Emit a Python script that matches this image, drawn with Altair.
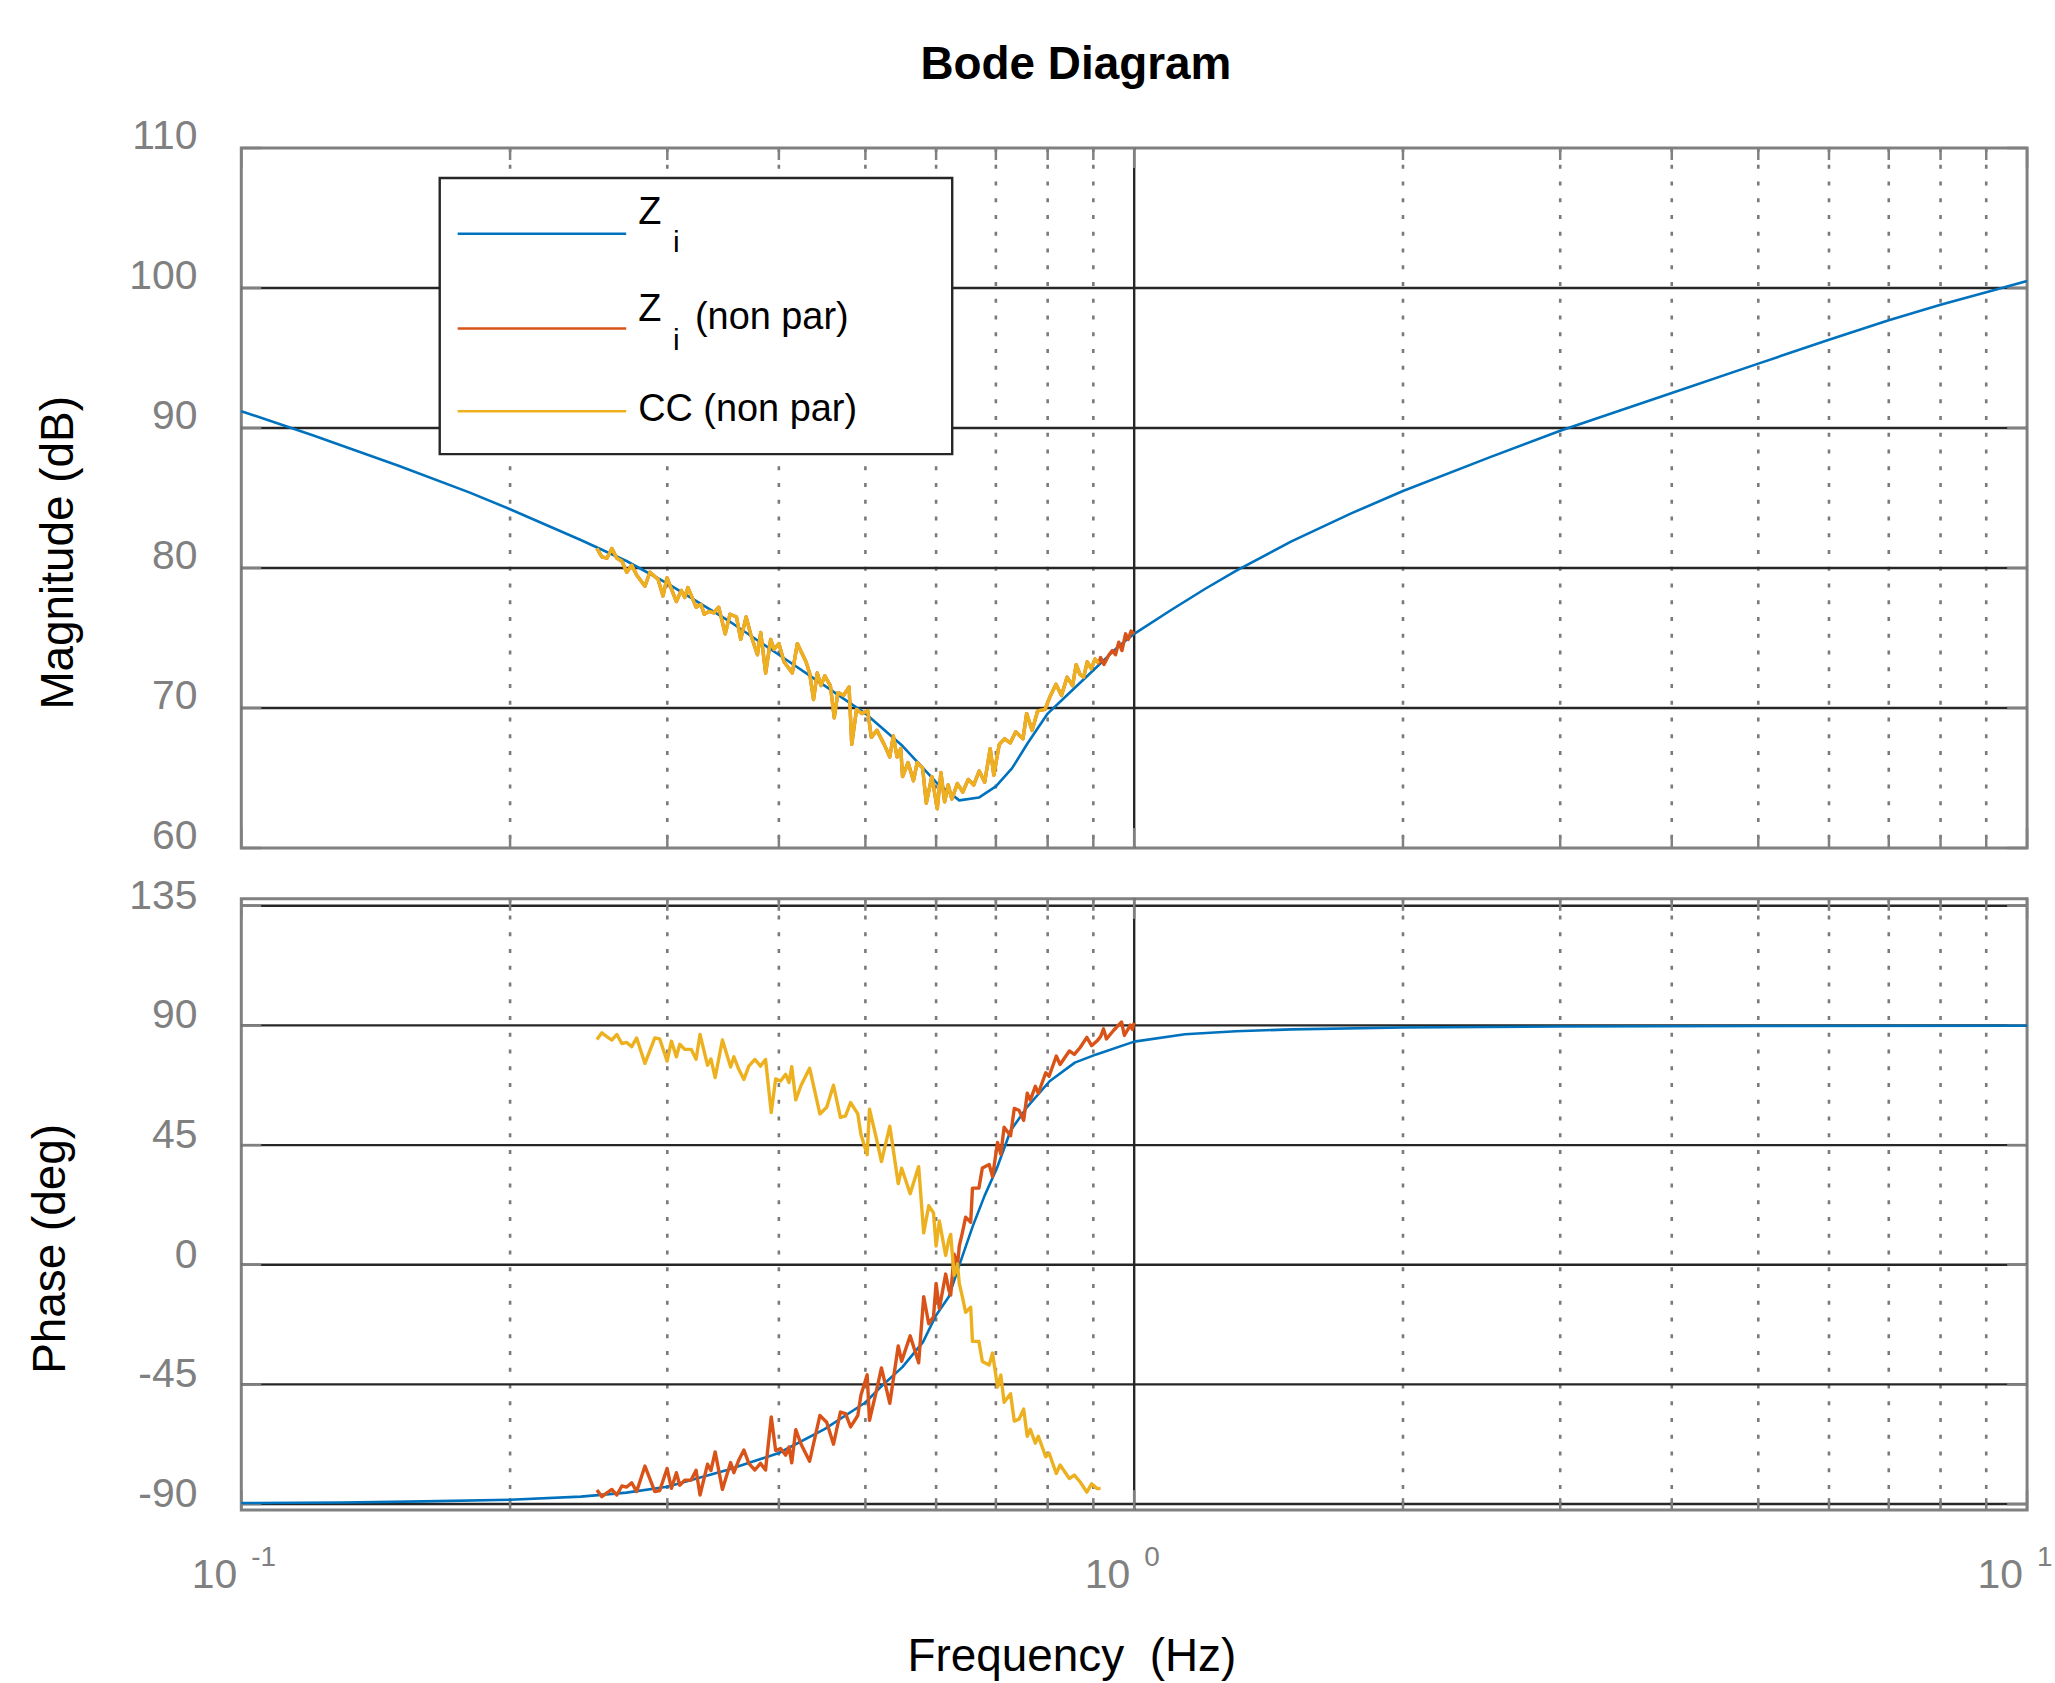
import altair as alt
import pandas as pd

FONT = "Liberation Sans"
GRAY = "#808080"
DARK = "#262626"
BLUE = "#0072BD"
ORANGE = "#D95319"
YELLOW = "#EDB120"

W, H1, H2 = 1791, 702, 613

# ---------------- data ----------------
ZI_MAG_F = [0.1, 0.12, 0.15, 0.18, 0.2, 0.24, 0.27, 0.3, 0.35, 0.4, 0.45, 0.5, 0.55, 0.6, 0.637,
            0.67, 0.7, 0.73, 0.76, 0.8, 0.85, 0.9, 0.96, 1.0, 1.1, 1.2, 1.3, 1.5, 1.75, 2.0, 2.5,
            3.0, 4.0, 5.0, 6.0, 7.0, 8.0, 9.0, 10.0]
ZI_MAG = [91.2, 89.5, 87.3, 85.4, 84.2, 82.0, 80.5, 78.9, 76.3, 73.8, 71.6, 69.6, 67.3, 64.7, 63.4,
          63.6, 64.4, 65.7, 67.5, 69.6, 71.2, 72.7, 74.4, 75.3, 77.0, 78.5, 79.8, 81.9, 83.9, 85.5,
          87.9, 89.8, 92.5, 94.6, 96.3, 97.7, 98.8, 99.7, 100.5]

ZI_PH_F = [0.1, 0.13, 0.16, 0.2, 0.24, 0.27, 0.3, 0.35, 0.4, 0.45, 0.5, 0.52, 0.55, 0.58, 0.6,
           0.62, 0.638, 0.66, 0.68, 0.702, 0.727, 0.759, 0.804, 0.858, 0.907, 1.0, 1.14, 1.3,
           1.5, 2.0, 3.0, 5.0, 10.0]
ZI_PH = [-89.6, -89.4, -89.0, -88.4, -87.2, -85.7, -83.5, -77.2, -70.8, -61.8, -51.8, -46.0,
         -38.5, -29.1, -19.0, -12.0, 0.5, 14.8, 26.0, 36.4, 50.4, 59.4, 69.0, 76.0, 79.1, 83.9,
         86.7, 87.8, 88.5, 89.2, 89.6, 89.8, 89.9]

NP_MAG_F = [0.2502, 0.2534, 0.2567, 0.2600, 0.2634, 0.2668, 0.2702, 0.2737, 0.2772, 0.2832,
            0.2868, 0.2929, 0.2967, 0.2998, 0.3071, 0.3110, 0.3138, 0.3164, 0.3231, 0.3272,
            0.3300, 0.3341, 0.3383, 0.3425, 0.3483, 0.3527, 0.3586, 0.3625, 0.3676, 0.3722,
            0.3785, 0.3817, 0.3866, 0.3916, 0.3950, 0.4001, 0.4053, 0.4141, 0.4195, 0.4290,
            0.4330, 0.4374, 0.4416, 0.4459, 0.4503, 0.4568, 0.4614, 0.4658, 0.4726, 0.4794,
            0.4827, 0.4887, 0.4958, 0.5030, 0.5077, 0.5151, 0.5248, 0.5324, 0.5374, 0.5425,
            0.5477, 0.5503, 0.5581, 0.5660, 0.5714, 0.5795, 0.5850, 0.5934, 0.6018, 0.6075,
            0.6133, 0.6190, 0.6249, 0.6338, 0.6427, 0.6519, 0.6612, 0.6706, 0.6801, 0.6898,
            0.6963, 0.7061, 0.7162, 0.7264, 0.7367, 0.7507, 0.7578, 0.7686, 0.7797, 0.7945,
            0.8060, 0.8174, 0.8290, 0.8410, 0.8530, 0.8611, 0.8695, 0.8778, 0.8860, 0.8950,
            0.9040, 0.9125, 0.9170, 0.9250, 0.9370, 0.9450, 0.9530, 0.9610, 0.9690, 0.9780,
            0.9850, 0.9920, 1.0000]
NP_MAG = [81.4, 80.8, 80.7, 81.4, 80.7, 80.5, 79.7, 80.2, 79.5, 78.7,
          79.7, 79.2, 78.0, 79.3, 77.6, 78.4, 77.9, 78.6, 77.2, 77.4,
          76.7, 76.9, 76.8, 77.2, 75.3, 76.7, 76.5, 74.9, 76.5, 75.2,
          73.8, 75.4, 72.5, 74.9, 74.2, 74.6, 73.3, 72.5, 74.6, 73.3,
          72.5, 70.6, 72.5, 71.6, 72.3, 71.6, 69.3, 71.1, 70.9, 71.5,
          67.4, 69.9, 69.6, 69.8, 67.9, 68.4, 67.4, 66.5, 68.0, 66.5,
          67.1, 65.1, 66.1, 64.8, 66.1, 65.7, 63.2, 65.1, 62.8, 65.4,
          63.3, 64.5, 63.5, 64.6, 64.0, 64.9, 64.5, 65.5, 64.7, 67.1,
          65.2, 67.4, 67.8, 67.5, 68.3, 67.8, 69.6, 68.4, 69.8, 69.9,
          70.9, 71.7, 70.9, 72.2, 71.6, 73.1, 72.4, 72.2, 73.3, 72.8,
          73.5, 73.2, 73.6, 73.1, 73.8, 74.1, 73.8, 74.7, 74.1, 75.3,
          74.9, 75.5, 75.3]
CC_MAG_COUNT = 102  # CC (non par) stops at ~0.91 Hz

NP_PH_F = [0.2502, 0.2534, 0.2567, 0.2600, 0.2634, 0.2668, 0.2702, 0.2737, 0.2772, 0.2832,
           0.2905, 0.2942, 0.2998, 0.3032, 0.3071, 0.3098, 0.3138, 0.3190, 0.3231, 0.3264,
           0.3328, 0.3357, 0.3394, 0.3458, 0.3532, 0.3562, 0.3608, 0.3655, 0.3702, 0.3760,
           0.3815, 0.3865, 0.3922, 0.3967, 0.4018, 0.4071, 0.4106, 0.4135, 0.4178, 0.4236,
           0.4330, 0.4446, 0.4525, 0.4605, 0.4688, 0.4750, 0.4813, 0.4903, 0.4943, 0.5023,
           0.5053, 0.5142, 0.5211, 0.5325, 0.5442, 0.5490, 0.5612, 0.5736, 0.5811, 0.5887,
           0.5960, 0.6000, 0.6050, 0.6150, 0.6200, 0.6230, 0.6285, 0.6340, 0.6370, 0.6420,
           0.6475, 0.6560, 0.6590, 0.6700, 0.6760, 0.6880, 0.6940, 0.7030, 0.7090, 0.7150,
           0.7270, 0.7340, 0.7430, 0.7520, 0.7590, 0.7650, 0.7750, 0.7810, 0.7960, 0.8030,
           0.8180, 0.8260, 0.8460, 0.8570, 0.8700, 0.8850, 0.8960, 0.9090, 0.9170, 0.9240,
           0.9310, 0.9480, 0.9680, 0.9750, 0.9900, 0.9950, 1.0000]
NP_PH = [-84.7, -87.2, -85.8, -84.5, -86.6, -83.2, -83.6, -82.0, -85.3, -75.7,
         -85.3, -84.9, -76.6, -84.1, -78.2, -82.9, -81.0, -81.0, -77.3, -86.6,
         -75.0, -77.4, -70.4, -84.5, -74.4, -78.2, -73.4, -69.7, -74.7, -77.2,
         -74.7, -77.2, -57.2, -69.9, -69.1, -71.6, -68.5, -74.5, -62.0, -67.5,
         -73.9, -56.7, -59.2, -67.5, -55.4, -56.0, -61.0, -56.7, -49.0, -41.4,
         -58.5, -47.7, -38.8, -52.1, -30.5, -36.3, -26.7, -36.9, -12.0, -22.2,
         -19.5, -7.0, -16.5, -3.5, -9.5, -11.4, 4.0, -0.3, 7.1, 12.0,
         17.9, 16.0, 28.8, 28.8, 36.4, 37.7, 33.2, 46.0, 41.5, 51.7,
         48.5, 58.8, 58.1, 54.3, 64.5, 61.9, 67.1, 64.5, 72.2, 70.9,
         78.5, 75.3, 80.4, 79.1, 81.7, 85.5, 82.4, 84.2, 85.8, 88.7,
         84.9, 88.1, 91.3, 86.2, 90.1, 88.5, 91.0]

CC_PH_F = [0.2502, 0.2534, 0.2567, 0.2600, 0.2634, 0.2668, 0.2702, 0.2737, 0.2772, 0.2832,
           0.2905, 0.2942, 0.2998, 0.3032, 0.3071, 0.3098, 0.3138, 0.3190, 0.3231, 0.3264,
           0.3328, 0.3357, 0.3394, 0.3458, 0.3532, 0.3562, 0.3608, 0.3655, 0.3702, 0.3760,
           0.3815, 0.3865, 0.3922, 0.3967, 0.4018, 0.4071, 0.4106, 0.4135, 0.4178, 0.4236,
           0.4330, 0.4446, 0.4525, 0.4605, 0.4688, 0.4750, 0.4813, 0.4903, 0.4943, 0.5023,
           0.5053, 0.5142, 0.5211, 0.5325, 0.5442, 0.5490, 0.5612, 0.5736, 0.5811, 0.5887,
           0.5960, 0.6000, 0.6050, 0.6150, 0.6200, 0.6230, 0.6285, 0.6340, 0.6370, 0.6420,
           0.6475, 0.6560, 0.6590, 0.6700, 0.6760, 0.6880, 0.6940, 0.7030, 0.7090, 0.7150,
           0.7270, 0.7340, 0.7430, 0.7520, 0.7590, 0.7650, 0.7750, 0.7810, 0.7960, 0.8030,
           0.8180, 0.8260, 0.8460, 0.8570, 0.8700, 0.8850, 0.8960, 0.9090, 0.9170]
CC_PH = [84.7, 87.2, 85.8, 84.5, 86.6, 83.2, 83.6, 82.0, 85.3, 75.7,
         85.3, 84.9, 76.6, 84.1, 78.2, 82.9, 81.0, 81.0, 77.3, 86.6,
         75.0, 77.4, 70.4, 84.5, 74.4, 78.2, 73.4, 69.7, 74.7, 77.2,
         74.7, 77.2, 57.2, 69.9, 69.1, 71.6, 68.5, 74.5, 62.0, 67.5,
         73.9, 56.7, 59.2, 67.5, 55.4, 56.0, 61.0, 56.7, 49.0, 41.4,
         58.5, 47.7, 38.8, 52.1, 30.5, 36.3, 26.7, 36.9, 12.0, 22.2,
         19.5, 7.0, 16.5, 3.5, 9.5, 11.4, -4.0, 0.3, -7.1, -12.0,
         -17.9, -16.0, -28.8, -28.8, -36.4, -37.7, -33.2, -46.0, -41.5, -51.7,
         -48.5, -58.8, -58.1, -54.3, -64.5, -61.9, -67.1, -64.5, -72.2, -70.9,
         -78.5, -75.3, -80.4, -79.1, -81.7, -85.5, -82.4, -84.2, -84.1]

MINOR_F = [0.2, 0.3, 0.4, 0.5, 0.6, 0.7, 0.8, 0.9, 2, 3, 4, 5, 6, 7, 8, 9]
MAJOR_F = [1]
DECADES = [0.1, 1, 10]
DECADE_EXP = ["-1", "0", "1"]
MAG_TICKS = [60, 70, 80, 90, 100, 110]
MAG_LABELS = ["60", "70", "80", "90", "100", "110"]
MAG_GRID = [70, 80, 90, 100]
PH_TICKS = [-90, -45, 0, 45, 90, 135]
PH_LABELS = ["-90", "-45", "0", "45", "90", "135"]

LEGEND_NAMES = ["Z", "Z", "CC (non par)"]

# ---------------- scales ----------------
XS = alt.Scale(type="log", domain=[0.1, 10], nice=False)
YM = alt.Scale(domain=[60, 110], nice=False, zero=False)
YP = alt.Scale(domain=[-92.25, 137.6], nice=False, zero=False)

ONE = pd.DataFrame({"k": [0]})


def xenc():
    return alt.X("f:Q", scale=XS, axis=None)


def vgrid(vals, H, color, width, dash=None):
    kw = dict(color=color, strokeWidth=width)
    if dash:
        kw["strokeDash"] = dash
    return alt.Chart(pd.DataFrame({"f": vals})).mark_rule(**kw).encode(
        x=xenc(), y=alt.value(0), y2=alt.value(H))


def hgrid(vals, ys):
    return alt.Chart(pd.DataFrame({"v": vals})).mark_rule(color=DARK, strokeWidth=2.4).encode(
        y=alt.Y("v:Q", scale=ys, axis=None), x=alt.value(0), x2=alt.value(W))


def yticks(vals, ys):
    d = pd.DataFrame({"v": vals})
    left = alt.Chart(d).mark_rule(color=GRAY, strokeWidth=2.5).encode(
        y=alt.Y("v:Q", scale=ys, axis=None), x=alt.value(0), x2=alt.value(20))
    right = alt.Chart(d).mark_rule(color=GRAY, strokeWidth=2.5).encode(
        y=alt.Y("v:Q", scale=ys, axis=None), x=alt.value(W - 20), x2=alt.value(W))
    return [left, right]


def ylabels(vals, labels, ys, dy):
    d = pd.DataFrame({"v": vals, "t": labels})
    return alt.Chart(d).mark_text(font=FONT, fontSize=41, color=GRAY, align="right",
                                  baseline="middle", dy=dy).encode(
        y=alt.Y("v:Q", scale=ys, axis=None), x=alt.value(-44), text="t:N")


def xticks(H):
    out = []
    for vals, ln in ((DECADES, 20), (MINOR_F, 12)):
        d = pd.DataFrame({"f": vals})
        out.append(alt.Chart(d).mark_rule(color=GRAY, strokeWidth=2.5).encode(
            x=xenc(), y=alt.value(H - ln), y2=alt.value(H)))
        out.append(alt.Chart(d).mark_rule(color=GRAY, strokeWidth=2.5).encode(
            x=xenc(), y=alt.value(0), y2=alt.value(ln)))
    return out


def line(fs, vs, ys, color, width):
    d = pd.DataFrame({"f": fs, "v": vs})
    return alt.Chart(d).mark_line(color=color, strokeWidth=width, strokeJoin="round").encode(
        x=xenc(), y=alt.Y("v:Q", scale=ys, axis=None))


def txt(text, x, y, size, color="black", align="left", weight="normal", angle=None,
        baseline="alphabetic"):
    kw = dict(font=FONT, fontSize=size, align=align, baseline=baseline, color=color,
              fontWeight=weight)
    if angle is not None:
        kw["angle"] = angle
    return alt.Chart(pd.DataFrame({"t": [text]})).mark_text(**kw).encode(
        text="t:N", x=alt.value(x), y=alt.value(y))


# ---------------- top panel: magnitude ----------------
anchor = alt.Chart(ONE).mark_rect(opacity=0).encode(
    x=alt.value(-240), x2=alt.value(-239), y=alt.value(-144), y2=alt.value(-143))

top_layers = [anchor,
              vgrid(MINOR_F, H1, "#7a7a7a", 2.6, [4, 12.8]),
              vgrid(MAJOR_F, H1, DARK, 2.4),
              hgrid(MAG_GRID, YM)]
top_layers += yticks(MAG_TICKS, YM) + xticks(H1)
top_layers += [
    line(ZI_MAG_F, ZI_MAG, YM, BLUE, 2.6),
    line(NP_MAG_F, NP_MAG, YM, ORANGE, 3.4),
    line(NP_MAG_F[:CC_MAG_COUNT], NP_MAG[:CC_MAG_COUNT], YM, YELLOW, 3.4),
    ylabels(MAG_TICKS, MAG_LABELS, YM, -11),
    txt("Magnitude (dB)", -183, 406, 46, align="center", angle=270, baseline="middle"),
    # legend
    alt.Chart(ONE).mark_rect(fill="white", stroke=DARK, strokeWidth=2.4).encode(
        x=alt.value(199), x2=alt.value(713), y=alt.value(30), y2=alt.value(307)),
    alt.Chart(ONE).mark_rule(color=BLUE, strokeWidth=2.6).encode(
        x=alt.value(217), x2=alt.value(386), y=alt.value(86)),
    alt.Chart(ONE).mark_rule(color=ORANGE, strokeWidth=2.6).encode(
        x=alt.value(217), x2=alt.value(386), y=alt.value(181)),
    alt.Chart(ONE).mark_rule(color=YELLOW, strokeWidth=2.6).encode(
        x=alt.value(217), x2=alt.value(386), y=alt.value(264)),
    txt(LEGEND_NAMES[0], 398, 76, 38),
    txt("i", 433, 104, 30),
    txt(LEGEND_NAMES[1], 398, 173, 38),
    txt("i", 433, 203, 30),
    txt("(non par)", 455, 182, 38),
    txt(LEGEND_NAMES[2], 398, 274, 38),
    # title
    txt("Bode Diagram", 837, -69, 46, align="center", weight="bold"),
]
top = alt.layer(*top_layers).properties(width=W, height=H1)

# ---------------- bottom panel: phase ----------------
dec_df = pd.DataFrame({"f": DECADES, "e": DECADE_EXP})
bot_layers = [vgrid(MINOR_F, H2, "#7a7a7a", 2.6, [4, 12.8]),
              vgrid(MAJOR_F, H2, DARK, 2.4),
              hgrid(PH_TICKS, YP)]
bot_layers += yticks(PH_TICKS, YP) + xticks(H2)
bot_layers += [
    line(ZI_PH_F, ZI_PH, YP, BLUE, 2.6),
    line(NP_PH_F, NP_PH, YP, ORANGE, 3.4),
    line(CC_PH_F, CC_PH, YP, YELLOW, 3.4),
    ylabels(PH_TICKS, PH_LABELS, YP, -9),
    txt("Phase (deg)", -191, 351, 46, align="center", angle=270, baseline="middle"),
    txt("Frequency\u00a0 (Hz)", 833, 774, 46, align="center"),
    alt.Chart(dec_df).mark_text(font=FONT, fontSize=41, align="right", baseline="alphabetic",
                                color=GRAY, dx=-4).encode(
        x=xenc(), y=alt.value(691), text=alt.value("10")),
    alt.Chart(dec_df).mark_text(font=FONT, fontSize=28, align="left", baseline="alphabetic",
                                color=GRAY, dx=10).encode(
        x=xenc(), y=alt.value(669), text="e:N"),
]
bottom = alt.layer(*bot_layers).properties(width=W, height=H2)

chart = alt.vconcat(top, bottom, spacing=51, bounds="flush").resolve_scale(
    x="independent", y="independent").properties(padding=0).configure_view(
    stroke=GRAY, strokeWidth=3)

chart.save("out.html", embed_options={"renderer": "svg", "actions": False})
